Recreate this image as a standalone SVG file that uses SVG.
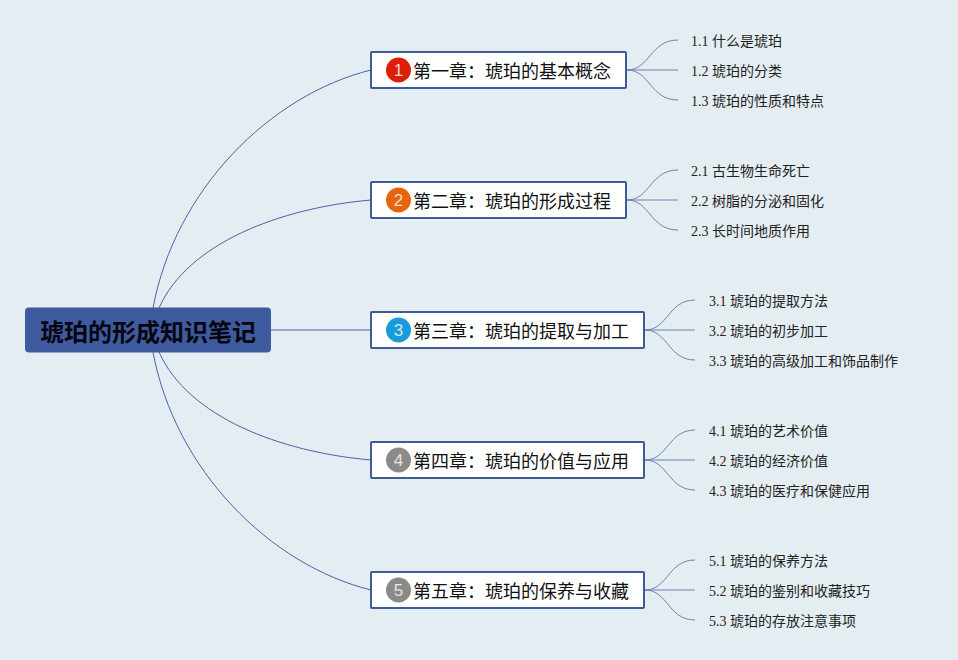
<svg xmlns="http://www.w3.org/2000/svg" width="958" height="660" viewBox="0 0 958 660">
<style>
text{font-family:"Liberation Serif","Noto Sans CJK SC",serif}
.c{font-family:"Liberation Sans","Noto Sans CJK SC",sans-serif;font-size:18px;fill:#111}
.s{font-size:14px;fill:#222}
.b{fill:#fff;stroke:#3f5b97;stroke-width:2}
.n{font-family:"Liberation Sans",sans-serif;font-size:17px;fill:#fff;text-anchor:middle;fill-opacity:.8}
.l{fill:none;stroke:#4a62a8;stroke-width:1}
.t{fill:none;stroke:#6f81b4;stroke-width:1}
</style>
<rect width="958" height="660" fill="#e4edf2"/>
<g id="connectors">
<path class="l" d="M153 308C175 190 270 95 371 70"/>
<path class="l" d="M159 308C188 243 280 208 371 200"/>
<path class="l" d="M271 330H371"/>
<path class="l" d="M159 352C188 417 280 452 371 460"/>
<path class="l" d="M153 352C175 470 270 565 371 590"/>
<path class="t" d="M627 70C650 70 650 40 678 40M627 70H678M627 70C650 70 650 100 678 100"/>
<path class="t" d="M627 200C650 200 650 170 678 170M627 200H678M627 200C650 200 650 230 678 230"/>
<path class="t" d="M645 330C668 330 668 300 695 300M645 330H695M645 330C668 330 668 360 695 360"/>
<path class="t" d="M645 460C668 460 668 430 695 430M645 460H695M645 460C668 460 668 490 695 490"/>
<path class="t" d="M645 590C668 590 668 560 695 560M645 590H695M645 590C668 590 668 620 695 620"/>
</g>
<g id="root"><rect x="25" y="307.500" width="246" height="45" rx="4" fill="#3f5b9f"/><text x="40" y="341" font-size="24" font-weight="700" fill="#050510" style="font-family:'Liberation Sans','Noto Sans CJK SC',sans-serif">琥珀的形成知识笔记</text></g>
<g id="ch1"><rect class="b" x="371" y="52" width="255" height="36" rx="1"/><circle cx="398.500" cy="70" r="12.500" fill="#dc1f0b"/><text class="n" x="398.500" y="76">1</text><text class="c" x="413" y="78">第一章：琥珀的基本概念</text></g>
<g id="ch2"><rect class="b" x="371" y="182" width="255" height="36" rx="1"/><circle cx="398.500" cy="200" r="12.500" fill="#e8640f"/><text class="n" x="398.500" y="206">2</text><text class="c" x="413" y="208">第二章：琥珀的形成过程</text></g>
<g id="ch3"><rect class="b" x="371" y="312" width="273" height="36" rx="1"/><circle cx="398.500" cy="330" r="12.500" fill="#1a9ad8"/><text class="n" x="398.500" y="336">3</text><text class="c" x="413" y="338">第三章：琥珀的提取与加工</text></g>
<g id="ch4"><rect class="b" x="371" y="442" width="273" height="36" rx="1"/><circle cx="398.500" cy="460" r="12.500" fill="#8a8a8a"/><text class="n" x="398.500" y="466">4</text><text class="c" x="413" y="468">第四章：琥珀的价值与应用</text></g>
<g id="ch5"><rect class="b" x="371" y="572" width="273" height="36" rx="1"/><circle cx="398.500" cy="590" r="12.500" fill="#8a8a8a"/><text class="n" x="398.500" y="596">5</text><text class="c" x="413" y="598">第五章：琥珀的保养与收藏</text></g>
<g id="n11"><text class="s" x="691" y="46">1.1 什么是琥珀</text></g>
<g id="n12"><text class="s" x="691" y="76">1.2 琥珀的分类</text></g>
<g id="n13"><text class="s" x="691" y="106">1.3 琥珀的性质和特点</text></g>
<g id="n21"><text class="s" x="691" y="176">2.1 古生物生命死亡</text></g>
<g id="n22"><text class="s" x="691" y="206">2.2 树脂的分泌和固化</text></g>
<g id="n23"><text class="s" x="691" y="236">2.3 长时间地质作用</text></g>
<g id="n31"><text class="s" x="709" y="306">3.1 琥珀的提取方法</text></g>
<g id="n32"><text class="s" x="709" y="336">3.2 琥珀的初步加工</text></g>
<g id="n33"><text class="s" x="709" y="366">3.3 琥珀的高级加工和饰品制作</text></g>
<g id="n41"><text class="s" x="709" y="436">4.1 琥珀的艺术价值</text></g>
<g id="n42"><text class="s" x="709" y="466">4.2 琥珀的经济价值</text></g>
<g id="n43"><text class="s" x="709" y="496">4.3 琥珀的医疗和保健应用</text></g>
<g id="n51"><text class="s" x="709" y="566">5.1 琥珀的保养方法</text></g>
<g id="n52"><text class="s" x="709" y="596">5.2 琥珀的鉴别和收藏技巧</text></g>
<g id="n53"><text class="s" x="709" y="626">5.3 琥珀的存放注意事项</text></g>
</svg>
